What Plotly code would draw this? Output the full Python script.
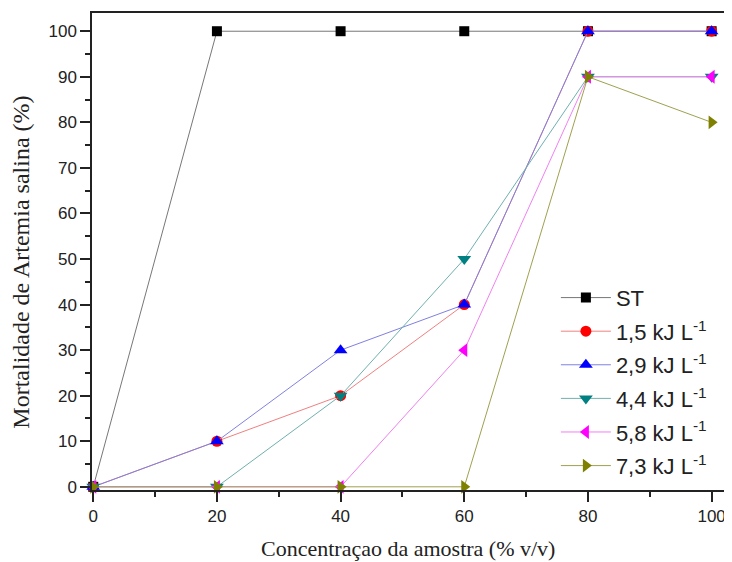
import plotly.graph_objects as go

x_conc = [0, 20, 40, 60, 80, 100]
series_names = ["ST", "1,5 kJ L<sup>-1</sup>", "2,9 kJ L<sup>-1</sup>", "4,4 kJ L<sup>-1</sup>",
                "5,8 kJ L<sup>-1</sup>", "7,3 kJ L<sup>-1</sup>"]
st = [0, 100, 100, 100, 100, 100]
e15 = [0, 10, 20, 40, 100, 100]
e29 = [0, 10, 30, 40, 100, 100]
e44 = [0, 0, 20, 50, 90, 90]
e58 = [0, 0, 0, 30, 90, 90]
e73 = [0, 0, 0, 0, 90, 80]

series = [st, e15, e29, e44, e58, e73]
colors = ["#000000", "#ff0000", "#0000ff", "#008080", "#ff00ff", "#808000"]
line_colors = ["#777777", "#f08080", "#8080e0", "#70b0b0", "#f080f0", "#a0a050"]
symbols = ["square", "circle", "triangle-up", "triangle-down", "triangle-left", "triangle-right"]
sizes = [10, 11, 12, 12, 12, 12]

fig = go.Figure()
for i, (name, ys, c, lc, s, sz) in enumerate(zip(series_names, series, colors, line_colors, symbols, sizes)):
    fig.add_trace(go.Scatter(
        x=x_conc, y=ys, name=name, mode="lines+markers",
        legendgroup=f"g{i}",
        line=dict(color=lc, width=1),
        marker=dict(color=c, symbol=s, size=sz, line=dict(width=0)),
        cliponaxis=False,
    ))

axis_common = dict(
    showline=True, linecolor="#222", linewidth=1.5, mirror=True,
    ticks="outside", ticklen=10, tickwidth=1.5, tickcolor="#222",
    showgrid=False, zeroline=False, automargin=False,
    tickfont=dict(family="Liberation Sans, Arial", size=17, color="#222"),
)

fig.update_xaxes(
    range=[-0.2, 102], tickvals=[0, 20, 40, 60, 80, 100],
    minor=dict(ticks="outside", ticklen=5, tickwidth=1.5, tickcolor="#222", dtick=10, tick0=0),
    **axis_common,
)
fig.update_yaxes(
    range=[-0.7, 104], tickvals=list(range(0, 101, 10)),
    minor=dict(ticks="outside", ticklen=5, tickwidth=1.5, tickcolor="#222", dtick=5, tick0=0),
    **axis_common,
)

fig.add_annotation(text="Concentraçao da amostra (% v/v)", xref="paper", yref="paper",
                   x=0.5, y=-0.122, xanchor="center", yanchor="middle", showarrow=False,
                   font=dict(family="Liberation Serif, Times New Roman", size=22, color="#222"))
fig.add_annotation(text="Mortalidade de Artemia salina (%)", xref="paper", yref="paper",
                   x=-0.112, y=0.477, xanchor="center", yanchor="middle", showarrow=False,
                   textangle=-90,
                   font=dict(family="Liberation Serif, Times New Roman", size=24, color="#222"))

fig.update_layout(
    width=724, height=554,
    margin=dict(l=84, r=8, t=5, b=72),
    paper_bgcolor="white", plot_bgcolor="white",
    showlegend=True,
    legend=dict(
        x=0.734, y=0.447, xanchor="left", yanchor="top",
        bgcolor="rgba(0,0,0,0)", borderwidth=0,
        font=dict(family="Liberation Sans, Arial", size=22, color="#222"),
        itemwidth=50, tracegroupgap=2,
    ),
)

fig.write_html("out.html")
